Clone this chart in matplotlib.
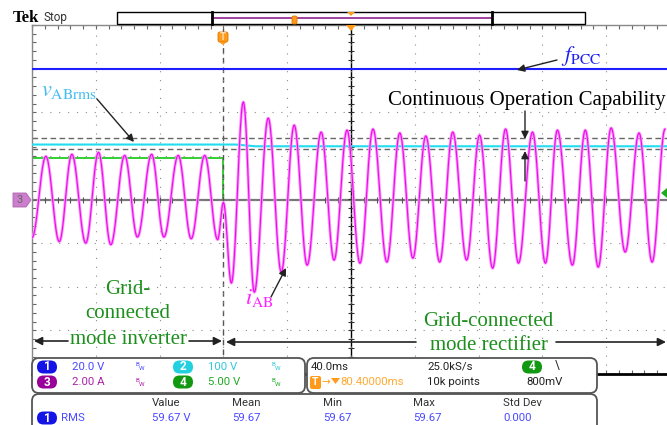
import numpy as np
import matplotlib
matplotlib.use("Agg")
import matplotlib.pyplot as plt
from matplotlib.patches import FancyBboxPatch, Rectangle, Polygon, FancyArrowPatch
from matplotlib.lines import Line2D
from matplotlib.ticker import MultipleLocator

plt.rcParams["mathtext.fontset"] = "stix"

# ---------------- data ----------------
time_per_div_ms = 40.0
time_window_ms = [-120.0, 280.0]          # relative to trigger
center_time_ms = 80.0
ch_scale = {1: 20.0, 2: 100.0, 3: 2.0, 4: 5.0}   # units per division

# ch1: f_PCC level (V)
fpcc_t = [-120.0, 280.0]
fpcc_v = [59.67, 59.67]

# ch2: v_ABrms (V)
vrms_t = [-120.0, 8.0, 20.0, 280.0]
vrms_v = [126.0, 126.0, 122.0, 122.0]

# continuous-operation band (V, on ch2 scale)
coc_upper = 140.0
coc_lower = 115.0

# ch4: mode signal (V)
mode_t = [-120.0, 0.0, 280.0]
mode_v = [4.8, 0.0, 0.0]

# ch3: i_AB, successive peaks/troughs (ms, A)
iab_t = [-120.0, -111.3, -102.9, -95.0, -86.3, -78.3, -70.6, -61.9, -53.9, -45.0,
         -37.3, -28.3, -20.2, -11.7, -3.6, 0.0, 5.0, 12.5, 19.4, 28.1,
         36.3, 44.4, 52.5, 61.3, 69.4, 77.5, 85.6, 93.8, 102.5, 110.6,
         118.8, 126.9, 135.6, 143.8, 152.5, 160.6, 168.8, 176.9, 185.0, 193.8,
         201.9, 209.4, 218.8, 226.9, 235.0, 243.1, 251.9, 260.6, 268.8, 276.9]
iab_v = [-1.75, 1.98, -1.93, 2.07, -2.00, 2.16, -2.07, 2.02, -1.72, 2.07,
         -1.72, 2.02, -1.80, 2.02, -1.84, -0.14, -3.83, 4.47, -4.25, 3.73,
         -3.33, 3.41, -3.01, 3.09, -2.78, 3.18, -2.92, 3.23, -2.87, 3.05,
         -2.69, 2.91, -2.87, 3.09, -2.78, 2.95, -3.15, 3.23, -2.92, 3.09,
         -2.92, 3.18, -3.01, 3.18, -3.10, 3.28, -2.41, 3.05, -2.87, 3.23]

# readouts
ch_labels = ["20.0 V", "100 V", "2.00 A", "5.00 V"]
horiz_labels = ["40.0ms", "25.0kS/s", "80.40000ms", "10k points", "800mV"]
meas_headers = ["Value", "Mean", "Min", "Max", "Std Dev"]
meas_values = ["59.67 V", "59.67", "59.67", "59.67", "0.000"]

# ---------------- colours ----------------
C_BLUE = "#1e1eff"
C_CYAN = "#22dcf0"
C_MAG = "#e80ce8"
C_MAG_HALO = "#ff90ff"
C_GREEN = "#22cc22"
C_TXTGREEN = "#1c8f1c"
C_ORANGE = "#ff9a1a"

# ---------------- figure ----------------
W, H = 667, 425
fig = plt.figure(figsize=(W / 100, H / 100), dpi=100)
fig.patch.set_facecolor("white")
T = fig.dpi_scale_trans


def P(x, y):
    return (x / 100.0, (H - y) / 100.0)


ax = fig.add_axes([32 / W, (H - 374) / H, 638 / W, 349 / H])
ax.set_xlim(*time_window_ms)
ax.set_ylim(-4, 4)
ax.set_facecolor("white")

# graticule
ax.set_xticks(np.arange(time_window_ms[0], time_window_ms[1] + 1, time_per_div_ms))
ax.set_yticks(np.arange(-4, 5, 1))
ax.xaxis.set_minor_locator(MultipleLocator(time_per_div_ms / 5))
ax.yaxis.set_minor_locator(MultipleLocator(0.2))
ax.tick_params(which="both", direction="in", length=3, width=0.8, color="#666666",
               top=True, bottom=True, left=True, right=False,
               labelbottom=False, labelleft=False)
ax.grid(True, which="major", color="#8c8c8c", lw=0.8, linestyle=(0, (1, 7)))
for s in ["top", "left"]:
    ax.spines[s].set_color("#888888")
    ax.spines[s].set_linewidth(1.0)
ax.spines["bottom"].set_color("black")
ax.spines["bottom"].set_linewidth(2.0)
ax.spines["right"].set_visible(False)

# centre axes with minor ticks
ax.axvline(center_time_ms, color="black", lw=1.0, zorder=1.5)
ax.axhline(0, color="#777777", lw=1.6, zorder=1.5)
xt = np.arange(time_window_ms[0], time_window_ms[1] + 0.1, time_per_div_ms / 5)
yt = np.arange(-4, 4.01, 0.2)
ax.plot(xt, np.zeros_like(xt), ls="none", marker="|", ms=5, mew=0.8, color="#555555", zorder=1.6)
ax.plot(np.full_like(yt, center_time_ms), yt, ls="none", marker="_", ms=5, mew=0.8, color="#333333", zorder=1.6)
# trigger position
ax.axvline(0, color="#555555", lw=1.0, ls=(0, (4, 3)), zorder=1.5)

# continuous-operation band
ax.axhline(coc_upper / ch_scale[2], color="#666666", lw=1.0, ls=(0, (4, 2.5)), zorder=2)
ax.axhline(coc_lower / ch_scale[2], color="#666666", lw=1.0, ls=(0, (4, 2.5)), zorder=2)

# traces
ax.plot(mode_t, np.array(mode_v) / ch_scale[4], drawstyle="steps-post", color=C_GREEN, lw=1.3, zorder=1.4)
ax.plot(vrms_t, np.array(vrms_v) / ch_scale[2], color=C_CYAN, lw=1.5, zorder=3)
ax.plot(fpcc_t, np.array(fpcc_v) / ch_scale[1], color=C_BLUE, lw=1.5, zorder=3)


def smooth(t, v, n=24):
    xs, ys = [], []
    for i in range(len(t) - 1):
        s = np.linspace(0, 1, n, endpoint=False)
        xs.append(t[i] + (t[i + 1] - t[i]) * s)
        ys.append(v[i] + (v[i + 1] - v[i]) * (1 - np.cos(np.pi * s)) / 2)
    xs.append([t[-1]])
    ys.append([v[-1]])
    return np.concatenate(xs), np.concatenate(ys)


tx, iy = smooth(iab_t, iab_v)
ax.plot(tx, iy / ch_scale[3], color=C_MAG_HALO, lw=2.1, zorder=4, solid_capstyle="round")
ax.plot(tx, iy / ch_scale[3], color=C_MAG, lw=0.8, zorder=4.1)

# ---------------- scope chrome ----------------
fig.text(*P(13, 18), "Tek", transform=T, fontsize=12, fontweight="bold",
         family="Liberation Serif", va="center", ha="left", color="black")
fig.text(*P(43, 18), "Stop", transform=T, fontsize=8.5, family="Roboto",
         va="center", ha="left", color="#333333")

# record bar
fig.add_artist(Rectangle(P(117, 24), 468 / 100, 12 / 100, transform=T, fc="white", ec="black", lw=1.0, zorder=5))
fig.add_artist(Line2D([P(212, 0)[0], P(492, 0)[0]], [P(0, 17.5)[1]] * 2, transform=T, color="#993399", lw=1.3, zorder=6))
for xb in (212, 492):
    fig.add_artist(Line2D([xb / 100] * 2, [P(0, 12)[1], P(0, 24)[1]], transform=T, color="black", lw=2.0, zorder=6))
fig.add_artist(FancyBboxPatch(P(292, 24), 5 / 100, 8 / 100, boxstyle="round,pad=0,rounding_size=0.015",
                              transform=T, fc=C_ORANGE, ec="#dd7700", lw=0.6, zorder=7))
fig.add_artist(Polygon([P(347, 12), P(355, 12), P(351, 16)], closed=True, transform=T, fc=C_ORANGE, ec="none", zorder=7))
fig.add_artist(Polygon([P(346, 25), P(356, 25), P(351, 31)], closed=True, transform=T, fc=C_ORANGE, ec="none", zorder=7))
# trigger marker
fig.add_artist(FancyBboxPatch(P(218, 42), 10 / 100, 10 / 100, boxstyle="round,pad=0,rounding_size=0.02",
                              transform=T, fc=C_ORANGE, ec="#dd7700", lw=0.6, zorder=7))
fig.add_artist(Polygon([P(219, 42), P(227, 42), P(223, 45)], closed=True, transform=T, fc=C_ORANGE, ec="none", zorder=7))
fig.text(*P(223, 37), "T", transform=T, fontsize=7, color="#ffe0b0", ha="center", va="center",
         family="Roboto", fontweight="bold", zorder=8)

# ch3 ground marker (left)
fig.add_artist(Polygon([P(13, 193), P(26, 193), P(31, 200), P(26, 207), P(13, 207)], closed=True,
                       transform=T, fc="#cc7fcc", ec="#b060b0", lw=0.6, zorder=7))
fig.text(*P(20, 200), "3", transform=T, fontsize=8, color="#666666", ha="center", va="center",
         family="Roboto", zorder=8)
# ch4 trigger level marker (right)
fig.add_artist(Polygon([P(661, 193), P(667, 188), P(667, 198)], closed=True, transform=T,
                       fc="#22aa22", ec="none", zorder=7))

# ---------------- annotations ----------------
serif = "Liberation Serif"


def arrow(tail, head, lw=1.0, ms=11):
    fig.add_artist(FancyArrowPatch(P(*tail), P(*head), transform=T, arrowstyle="-|>",
                                   mutation_scale=ms, color="#222222", lw=lw,
                                   shrinkA=0, shrinkB=0, zorder=8))


fig.text(*P(561, 56), r"$f_{\mathrm{PCC}}$", transform=T, fontsize=16, color="#2020ee",
         ha="left", va="center", zorder=9)
arrow((557, 60), (517, 70))

fig.text(*P(41, 91), r"$v_{\mathrm{ABrms}}$", transform=T, fontsize=16, color="#40bdf0",
         ha="left", va="center", zorder=9)
arrow((97, 99), (134, 142))

fig.text(*P(388, 101), "Continuous Operation Capability", transform=T, fontsize=15,
         family=serif, color="black", ha="left", va="center", zorder=9)
arrow((525, 111), (525, 139))
arrow((525, 181), (525, 151))

fig.text(*P(245, 298), r"$i_{\mathrm{AB}}$", transform=T, fontsize=16, color="#ff22ff",
         ha="left", va="center", zorder=9)
arrow((271, 297), (286, 268))

for s, y in (("Grid-", 289), ("connected", 313), ("mode inverter", 339)):
    fig.text(*P(128, y), s, transform=T, fontsize=15, family=serif, color=C_TXTGREEN,
             ha="center", va="center", zorder=9)
fig.text(*P(488, 321), "Grid-connected", transform=T, fontsize=15, family=serif, color=C_TXTGREEN,
         ha="center", va="center", zorder=9)
fig.text(*P(489, 346), "mode rectifier", transform=T, fontsize=15, family=serif, color=C_TXTGREEN,
         ha="center", va="center", zorder=9)
arrow((68, 341), (34, 341), lw=1.2, ms=12)
arrow((189, 341), (222, 341), lw=1.2, ms=12)
arrow((416, 342), (226, 342), lw=1.2, ms=12)
arrow((556, 342), (666, 342), lw=1.2, ms=12)

# ---------------- readout panels ----------------
ui = ["Roboto", "DejaVu Sans"]


def panel(x0, y0, x1, y1):
    fig.add_artist(FancyBboxPatch(P(x0, y1), (x1 - x0) / 100, (y1 - y0) / 100,
                                  boxstyle="round,pad=0,rounding_size=0.07", transform=T,
                                  fc="white", ec="#555555", lw=1.3, zorder=10))


def badge(cx, cy, num, color, w=20, h=13):
    fig.add_artist(FancyBboxPatch(P(cx - w / 2, cy + h / 2), w / 100, h / 100,
                                  boxstyle="round,pad=0,rounding_size=0.065", transform=T,
                                  fc=color, ec="none", zorder=11))
    fig.text(*P(cx, cy), num, transform=T, fontsize=8.5, color="white", ha="center", va="center",
             family=ui, fontweight="bold", zorder=12)


def txt(x, y, s, color="#222222", size=8.2):
    fig.text(*P(x, y), s, transform=T, fontsize=size, color=color, ha="left", va="center",
             family=ui, zorder=12)


def bw(x, y, color):
    fig.text(*P(x, y - 2), "B", transform=T, fontsize=4.5, color=color, ha="left", va="center", family=ui, zorder=12)
    fig.text(*P(x + 2.5, y + 2), "W", transform=T, fontsize=4.5, color=color, ha="left", va="center", family=ui, zorder=12)


panel(32, 358, 305, 393)
panel(307, 358, 597, 393)
panel(32, 394, 597, 445)

badge(47, 367, "1", "#1414e6")
txt(72, 367, ch_labels[0], "#4a4aff")
bw(136, 367, "#4a4aff")
badge(183, 367, "2", "#22d0e0")
txt(208, 367, ch_labels[1], "#30c8dc")
bw(272, 367, "#30c8dc")
badge(47, 382, "3", "#990099")
txt(72, 382, ch_labels[2], "#aa22aa")
bw(136, 382, "#aa22aa")
badge(183, 382, "4", "#119911")
txt(208, 382, ch_labels[3], "#22aa22")
bw(272, 382, "#22aa22")

txt(311, 367, horiz_labels[0])
txt(427, 367, horiz_labels[1])
badge(532, 367, "4", "#119911")
txt(555, 366, "\\", "#222222", 8.5)
fig.add_artist(FancyBboxPatch(P(310, 389), 11 / 100, 13 / 100, boxstyle="round,pad=0,rounding_size=0.02",
                              transform=T, fc=C_ORANGE, ec="none", zorder=11))
fig.text(*P(315.5, 382), "T", transform=T, fontsize=7.5, color="white", ha="center", va="center",
         family=ui, fontweight="bold", zorder=12)
txt(321, 382, "\u2192", C_ORANGE, 7.5)
fig.add_artist(Polygon([P(331, 378), P(340, 378), P(335.5, 384)], closed=True, transform=T,
                       fc=C_ORANGE, ec="none", zorder=12))
txt(340, 382, horiz_labels[2], "#ffaa33")
txt(427, 382, horiz_labels[3])
txt(526, 382, horiz_labels[4])

for x, s in zip((152, 232, 323, 413, 503), meas_headers):
    txt(x, 403, s, "#333333")
badge(47, 418, "1", "#1414e6")
txt(61, 418, "RMS", "#4a4aff")
for x, s in zip((152, 232, 323, 413, 503), meas_values):
    txt(x, 418, s, "#4a4aff")

fig.savefig("out.png", dpi=100, facecolor="white")
